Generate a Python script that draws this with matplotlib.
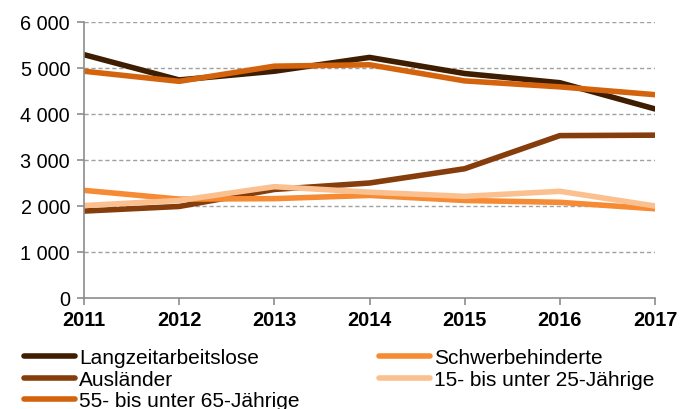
import matplotlib.pyplot as plt
from matplotlib.ticker import FuncFormatter

plt.rcParams['font.family'] = ['Liberation Sans', 'DejaVu Sans']

jahre = ["2011", "2012", "2013", "2014", "2015", "2016", "2017"]

langzeit = [5290, 4740, 4930, 5230, 4880, 4680, 4110]
schwerbeh = [2340, 2150, 2160, 2230, 2120, 2080, 1940]
auslaender = [1890, 1990, 2360, 2500, 2810, 3530, 3540]
jung = [2010, 2120, 2420, 2300, 2210, 2320, 2000]
alt = [4930, 4710, 5040, 5070, 4720, 4590, 4420]

reihen = [
    ("Langzeitarbeitslose", langzeit, "#3f1d01"),
    ("Schwerbehinderte", schwerbeh, "#f68b33"),
    ("Ausländer", auslaender, "#853d0b"),
    ("15- bis unter 25-Jährige", jung, "#fbc08f"),
    ("55- bis unter 65-Jährige", alt, "#d3640d"),
]

fig = plt.figure(figsize=(6.91, 4.10), dpi=100)
ax = fig.add_axes([84 / 691, 1 - 299 / 410, (655 - 84) / 691, (299 - 23) / 410])

x = list(range(len(jahre)))
# Zeichenreihenfolge wie im Original
for name, werte, farbe in [reihen[2], reihen[1], reihen[3], reihen[0], reihen[4]]:
    ax.plot(x, werte, color=farbe, lw=4, solid_capstyle="round",
            solid_joinstyle="round", label=name)

ax.set_xlim(0, len(jahre) - 1)
ax.set_ylim(0, 6000)
ax.set_yticks(range(0, 6001, 1000))
ax.yaxis.set_major_formatter(FuncFormatter(lambda v, p: f"{int(v):,}".replace(",", " ")))
ax.set_xticks(x)
ax.set_xticklabels(jahre, fontweight="bold")

for yv in range(1000, 6001, 1000):
    ax.axhline(yv, color="#a0a0a0", lw=1, ls=(0, (3, 2)), zorder=0)

for s in ["top", "right"]:
    ax.spines[s].set_visible(False)
for s in ["left", "bottom"]:
    ax.spines[s].set_color("#8c8c8c")
    ax.spines[s].set_linewidth(1.2)
ax.tick_params(axis="both", colors="#8c8c8c", length=5, width=1.2, labelsize=14.3,
               labelcolor="black")
ax.tick_params(axis="y", pad=5)
ax.tick_params(axis="x", pad=4)

handles = {h.get_label(): h for h in ax.get_lines()}
order = ["Langzeitarbeitslose", "Ausländer", "55- bis unter 65-Jährige",
         "Schwerbehinderte", "15- bis unter 25-Jährige"]
fig.legend([handles[n] for n in order], order, ncol=2, frameon=False,
           loc="upper left", bbox_to_anchor=(0.023, 0.168), fontsize=15,
           handlelength=2.45, handletextpad=0.2, columnspacing=3.8,
           labelspacing=0.12, borderaxespad=0)

fig.savefig("out.png", dpi=100)
